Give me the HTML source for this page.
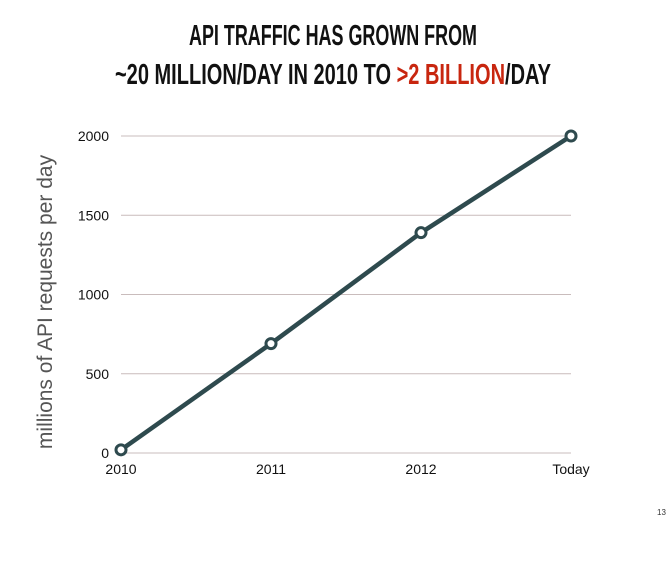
<!DOCTYPE html>
<html><head><meta charset="utf-8"><style>
html,body{margin:0;padding:0;background:#fff;}
body{width:666px;height:568px;overflow:hidden;}
svg{display:block;}
.title{font-family:"Liberation Sans Narrow","Liberation Sans",sans-serif;font-weight:bold;font-size:29px;fill:#111;}
.tick{font-family:"Liberation Sans",sans-serif;font-size:14px;fill:#111;}
</style></head><body>
<svg id="chart" width="666" height="568">
  <text class="title" x="333" y="45" text-anchor="middle" textLength="288" lengthAdjust="spacingAndGlyphs">API TRAFFIC HAS GROWN FROM</text>
  <text class="title" x="333" y="84" text-anchor="middle" textLength="436" lengthAdjust="spacingAndGlyphs">~20 MILLION/DAY IN 2010 TO <tspan fill="#c8260f">&gt;2 BILLION</tspan>/DAY</text>
  <text transform="translate(52,302) rotate(-90)" text-anchor="middle" font-family="Liberation Sans, sans-serif" font-size="21" fill="#555">millions of API requests per day</text>
  <g id="grid"></g>
  <g id="series"></g>
  <text x="657" y="515" font-family="Liberation Sans, sans-serif" font-size="8" fill="#333">13</text>
</svg>
<script>
const categories = ["2010", "2011", "2012", "Today"];
const values = [20, 690, 1390, 2000];
const yTicks = [0, 500, 1000, 1500, 2000];

const NS = "http://www.w3.org/2000/svg";
const x0 = 121, x1 = 571, yBase = 453, yTop = 136, yMax = 2000;
function xScale(i){ return x0 + i * (x1 - x0) / (categories.length - 1); }
function yScale(v){ return yBase - v / yMax * (yBase - yTop); }
function mk(tag, attrs){ const e = document.createElementNS(NS, tag); for (const k in attrs) e.setAttribute(k, attrs[k]); return e; }

const grid = document.getElementById("grid");
yTicks.forEach(t => {
  const l = mk("line", {x1: x0, x2: x1, y1: yScale(t), y2: yScale(t), stroke: "#c9bcbc", "stroke-width": 1});
  
  
  grid.appendChild(l);
  const tx = mk("text", {x: 109, y: yScale(t) + 5, "text-anchor": "end", class: "tick"});
  
  
  tx.textContent = t;
  grid.appendChild(tx);
});
categories.forEach((c, i) => {
  const tx = mk("text", {x: xScale(i), y: 474, "text-anchor": "middle", class: "tick"});
  
  
  tx.textContent = c;
  grid.appendChild(tx);
});

const series = document.getElementById("series");
const pts = values.map((v, i) => xScale(i) + "," + yScale(v)).join(" ");
const line = mk("polyline", {points: pts, fill: "none", stroke: "#2e4a4e", "stroke-width": 4.5, "stroke-linejoin": "round"});


series.appendChild(line);
values.forEach((v, i) => {
  const c = mk("circle", {cx: xScale(i), cy: yScale(v), r: 5, fill: "#fff", stroke: "#2e4a4e", "stroke-width": 3});
  
  
  series.appendChild(c);
});
</script>
</body></html>
